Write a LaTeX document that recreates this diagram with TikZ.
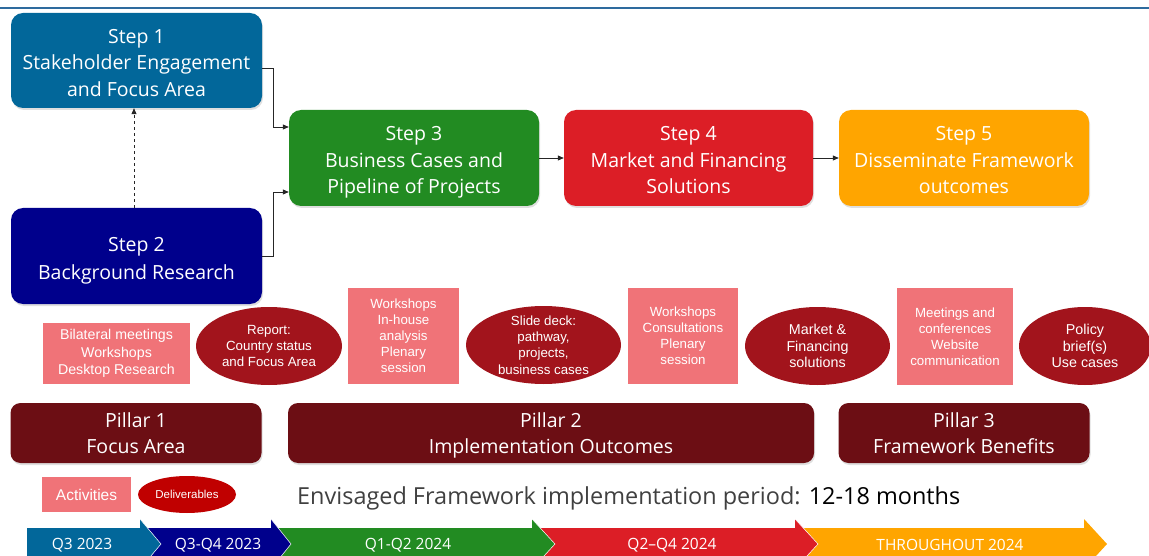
\documentclass[tikz,border=0pt]{standalone}
\usepackage{fontspec}
\setmainfont{Open Sans}
\newfontfamily\arialfont{Liberation Sans}
\usetikzlibrary{arrows.meta,shapes.geometric,shadows,calc}

\definecolor{stepblue}{RGB}{2,103,154}
\definecolor{stepnavy}{RGB}{0,0,140}
\definecolor{stepgreen}{RGB}{34,139,34}
\definecolor{stepred}{RGB}{220,30,38}
\definecolor{steporange}{RGB}{255,165,0}
\definecolor{actpink}{RGB}{240,115,120}
\definecolor{delred}{RGB}{162,20,28}
\definecolor{legred}{RGB}{192,0,0}
\definecolor{pillarred}{RGB}{108,14,20}
\definecolor{headline}{RGB}{46,107,158}
\definecolor{textgray}{RGB}{64,64,64}

\tikzset{
  stepbox/.style={rectangle, rounded corners=12pt, inner sep=0pt,
    drop shadow={opacity=0.25, shadow xshift=1pt, shadow yshift=-2pt}},
  steptext/.style={text=white, align=center, inner sep=0pt, yshift=-4pt,
    font=\fontsize{19.5}{26.5}\selectfont},
  pillarbox/.style={stepbox, fill=pillarred, rounded corners=10pt},
  pillartext/.style={steptext, yshift=2pt, font=\fontsize{19.5}{26}\selectfont},
  activity/.style={rectangle, fill=actpink, text=white, align=center,
    inner sep=0pt, font=\arialfont\fontsize{13.3}{16}\selectfont},
  deliv/.style={ellipse, fill=delred, inner sep=0pt},
  delivtext/.style={text=white, align=center, inner sep=0pt,
    font=\arialfont\fontsize{13.3}{16.3}\selectfont},
  flow/.style={draw=black!85, line width=0.8pt, -{Triangle[length=6pt,width=5pt]}},
  tlseg/.style={draw=white, line width=0.5pt},
  tltext/.style={text=white, font=\fontsize{15.5}{18}\selectfont, inner sep=0pt}
}

\begin{document}
\begin{tikzpicture}[x=1pt,y=-1pt]
\useasboundingbox (0,0) rectangle (1149,556);
\clip (0,0) rectangle (1149,556);

% header rule
\draw[headline, line width=2pt] (0,8) -- (1149,8);

% steps
\node[stepbox, fill=stepblue, minimum width=251pt, minimum height=95pt,
  label={[steptext]center:{\strut Step 1\\Stakeholder Engagement\\and Focus Area\strut}}] (s1) at (136.5,60.5) {};
\node[stepbox, fill=stepnavy, minimum width=251pt, minimum height=96pt,
  label={[steptext, font=\fontsize{19.5}{27.5}\selectfont]center:{\strut Step 2\\Background Research\strut}}] (s2) at (136.5,256) {};
\node[stepbox, fill=stepgreen, minimum width=250pt, minimum height=96pt,
  label={[steptext]center:{\strut Step 3\\Business Cases and\\Pipeline of Projects\strut}}] (s3) at (414,158) {};
\node[stepbox, fill=stepred, minimum width=249pt, minimum height=96pt,
  label={[steptext]center:{\strut Step 4\\Market and Financing\\Solutions\strut}}] (s4) at (688.5,158) {};
\node[stepbox, fill=steporange, minimum width=250pt, minimum height=96pt,
  label={[steptext]center:{\strut Step 5\\Disseminate Framework\\outcomes\strut}}] (s5) at (964,158) {};

% step connectors
\draw[flow, dashed] (s2.north -| 134,0) -- (s1.south -| 134,0);
\draw[flow] ($(s1.east)+(0,7.5)$) -- ++(11,0) |- ($(s3.west)+(0,-31)$);
\draw[flow] (s2.east) -- ++(11,0) |- ($(s3.west)+(0,34)$);
\draw[flow] (s3) -- (s4);
\draw[flow] (s4) -- (s5);

% activities and deliverables
\node[activity, minimum width=147pt, minimum height=61pt,
      font=\arialfont\fontsize{14.2}{17.4}\selectfont] (a1) at (116.5,353.5)
  {Bilateral meetings\\Workshops\\Desktop Research};
\node[deliv, minimum width=146pt, minimum height=78pt,
      label={[delivtext]center:{Report:\\Country status\\and Focus Area}}] (d1) at (269,346) {};
\node[activity, minimum width=111pt, minimum height=96pt] (a2) at (403.5,336)
  {Workshops\\In-house\\analysis\\Plenary\\session};
\node[deliv, minimum width=155pt, minimum height=78pt,
      label={[delivtext]center:{Slide deck:\\pathway,\\projects,\\business cases}}] (d2) at (543.5,345) {};
\node[activity, minimum width=110pt, minimum height=96pt] (a3) at (683,336)
  {Workshops\\Consultations\\Plenary\\session};
\node[deliv, minimum width=145pt, minimum height=78pt,
      label={[delivtext, font=\arialfont\fontsize{14.3}{16.7}\selectfont]center:{Market \&\\Financing\\solutions}}] (d3) at (817.5,346) {};
\node[activity, minimum width=116pt, minimum height=97pt] (a4) at (955,336.5)
  {Meetings and\\conferences\\Website\\communication};
\node[deliv, minimum width=132pt, minimum height=78pt,
      label={[delivtext, font=\arialfont\fontsize{14.3}{16.7}\selectfont]center:{Policy\\brief(s)\\Use cases}}] (d4) at (1085,346) {};

% pillars
\node[pillarbox, minimum width=251pt, minimum height=60pt,
  label={[pillartext]center:{\strut Pillar 1\\Focus Area\strut}}] (p1) at (136,433) {};
\node[pillarbox, minimum width=526pt, minimum height=60pt,
  label={[pillartext]center:{\strut Pillar 2\\Implementation Outcomes\strut}}] (p2) at (551,433) {};
\node[pillarbox, minimum width=251pt, minimum height=60pt,
  label={[pillartext]center:{\strut Pillar 3\\Framework Benefits\strut}}] (p3) at (964,433) {};

% legend
\node[activity, minimum width=89pt, minimum height=35pt,
      font=\arialfont\fontsize{15.5}{18}\selectfont] (la) at (86.5,494.5) {Activities};
\node[ellipse, fill=legred, minimum width=98pt, minimum height=37pt, inner sep=0pt,
      text=white, font=\arialfont\fontsize{11.5}{13}\selectfont] (ld) at (187,494.5) {Deliverables};
\node[anchor=west, inner sep=0pt, text=textgray, font=\fontsize{23.45}{28}\selectfont] (period) at (297,498)
  {Envisaged Framework implementation period: \textcolor{black}{12-18 months}};

% timeline (drawn right to left so each head lies over the next body)
\fill[steporange] (795,528) -- (1084,528) -- (1084,519) -- (1107,544) -- (1084,569) -- (1084,560) -- (795,560) -- cycle;
\fill[stepred] (532,528) -- (795,528) -- (795,519) -- (818,544) -- (795,569) -- (795,560) -- (532,560) -- cycle;
\draw[tlseg] (795,519) -- (818,544) -- (795,569);
\fill[stepgreen] (271,528) -- (532,528) -- (532,519) -- (555,544) -- (532,569) -- (532,560) -- (271,560) -- cycle;
\draw[tlseg] (532,519) -- (555,544) -- (532,569);
\fill[stepnavy] (140,528) -- (271,528) -- (271,519) -- (291,544) -- (271,569) -- (271,560) -- (140,560) -- cycle;
\draw[tlseg] (271,519) -- (291,544) -- (271,569);
\fill[stepblue] (27,528) -- (140,528) -- (140,519) -- (161,544) -- (140,569) -- (140,560) -- (27,560) -- cycle;
\draw[tlseg] (140,519) -- (161,544) -- (140,569);

\node[tltext] (q1) at (82,545) {Q3 2023};
\node[tltext] (q2) at (218,545) {Q3-Q4 2023};
\node[tltext] (q3) at (408,545) {Q1-Q2 2024};
\node[tltext] (q4) at (672,545) {Q2–Q4 2024};
\node[tltext] (q5) at (950,545) {THROUGHOUT 2024};
\end{tikzpicture}
\end{document}
